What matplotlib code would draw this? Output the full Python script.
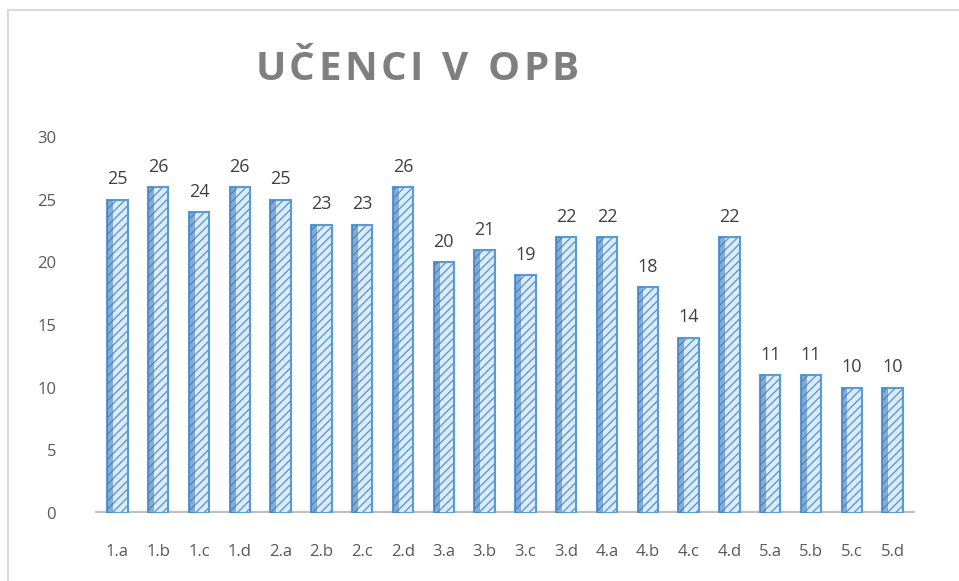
import matplotlib
matplotlib.use("Agg")
import matplotlib.pyplot as plt
from matplotlib.lines import Line2D

categories = ["1.a", "1.b", "1.c", "1.d", "2.a", "2.b", "2.c", "2.d",
              "3.a", "3.b", "3.c", "3.d", "4.a", "4.b", "4.c", "4.d",
              "5.a", "5.b", "5.c", "5.d"]
values = [25, 26, 24, 26, 25, 23, 23, 26, 20, 21, 19, 22, 22, 18, 14, 22, 11, 11, 10, 10]
yticks = [0, 5, 10, 15, 20, 25, 30]
title = "UČENCI V OPB"

plt.rcParams['font.family'] = ['Open Sans', 'DejaVu Sans']
plt.rcParams['hatch.color'] = '#5b9bd5'
plt.rcParams['hatch.linewidth'] = 1.0

W, H = 959, 581
fig = plt.figure(figsize=(W / 100, H / 100), dpi=100)
fig.patch.set_facecolor('white')

# outer frame
fig.add_artist(Line2D([8 / W, 8 / W], [0, 1 - 10 / H], color='#d9d9d9', lw=1.5, transform=fig.transFigure))
fig.add_artist(Line2D([8 / W, 1], [1 - 10 / H, 1 - 10 / H], color='#d9d9d9', lw=1.5, transform=fig.transFigure))

ax = fig.add_axes([95 / W, (H - 513) / H, (915 - 95) / W, (513 - 137) / H])
ax.set_facecolor('none')
x = list(range(len(categories)))
bw = 0.5
ax.bar(x, values, width=bw, color='#ddeaf7', edgecolor='#5b9bd5', linewidth=1.5,
       hatch='////', zorder=3)
ax.bar([i - bw / 2 + 0.06 for i in x], values, width=0.12, color='#3f79b8', edgecolor='#3f79b8',
       linewidth=0.5, zorder=4, alpha=0.55)

for xi, v in zip(x, values):
    ax.text(xi, v + 0.9, str(v), ha='center', va='bottom', fontsize=13, color='#404040')

ax.set_xlim(-0.55, 19.55)
ax.set_ylim(0, 30)
ax.set_yticks(yticks)
ax.set_xticks(x)
ax.set_xticklabels(categories)
ax.tick_params(axis='both', length=0, labelsize=12, colors='#595959')
ax.tick_params(axis='x', pad=22)
ax.tick_params(axis='y', pad=28)
for s in ax.spines.values():
    s.set_visible(False)
ax.axhline(0, color='#bfbfbf', lw=3, zorder=2)

# title with letter spacing
fig.canvas.draw()
renderer = fig.canvas.get_renderer()
fs = 29
tracking = 3.5
widths = []
for ch in title:
    t = fig.text(0, 0, ch if ch != ' ' else 'I', fontsize=fs, fontweight='bold')
    w = t.get_window_extent(renderer).width
    if ch == ' ':
        w *= 0.9
    widths.append(w)
    t.remove()
total = sum(widths) + tracking * (len(title) - 1)
start = 417 - total / 2
xpos = start
for ch, w in zip(title, widths):
    if ch != ' ':
        fig.text(xpos / W, 1 - 70 / H, ch, ha='left', va='center', fontsize=fs,
                 fontweight='bold', color='#7f7f7f')
    xpos += w + tracking

fig.savefig('out.png', dpi=100)
